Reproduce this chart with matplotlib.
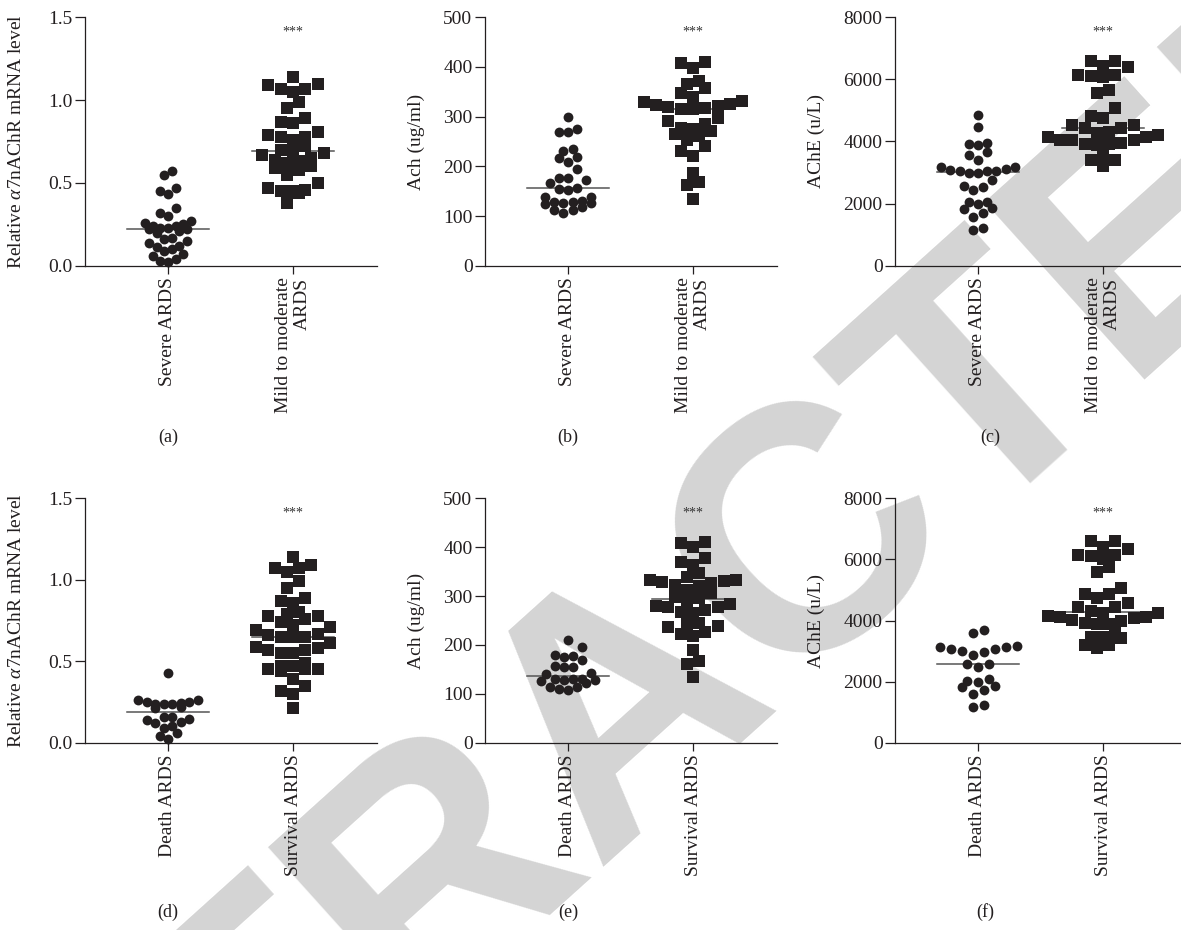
import numpy as np
import matplotlib
matplotlib.use("Agg")
import matplotlib.pyplot as plt

plt.rcParams['font.family'] = ['Liberation Serif', 'DejaVu Serif']
plt.rcParams['mathtext.fontset'] = 'custom'
plt.rcParams['mathtext.rm'] = 'Liberation Serif'
plt.rcParams['mathtext.it'] = 'Liberation Serif:italic'

# ---------------- data ----------------
cats_top = ["Severe ARDS", "Mild to moderate\nARDS"]
cats_bot = ["Death ARDS", "Survival ARDS"]

sev_a = [0.57, 0.55, 0.47, 0.45, 0.43, 0.35, 0.32, 0.30, 0.27, 0.26, 0.25, 0.24, 0.24, 0.23,
         0.23, 0.22, 0.22, 0.21, 0.20, 0.17, 0.16, 0.15, 0.14, 0.12, 0.11, 0.10, 0.09, 0.07,
         0.06, 0.04, 0.03, 0.02]
mild_a = [1.14, 1.10, 1.09, 1.07, 1.07, 1.05, 0.99, 0.95, 0.89, 0.87, 0.86, 0.81, 0.79, 0.78,
          0.78, 0.76, 0.72, 0.70, 0.69, 0.68, 0.67, 0.65, 0.64, 0.63, 0.62, 0.60, 0.59, 0.58,
          0.55, 0.50, 0.47, 0.46, 0.45, 0.45, 0.44, 0.38]

sev_b = [299, 276, 269, 269, 235, 231, 218, 217, 208, 194, 177, 176, 172, 167, 156, 154, 152,
         139, 139, 130, 129, 128, 127, 126, 125, 118, 112, 112, 106]
mild_b = [410, 408, 398, 372, 366, 358, 348, 340, 332, 330, 326, 323, 322, 320, 318, 316, 315,
          297, 292, 286, 278, 276, 272, 266, 262, 253, 240, 230, 221, 186, 168, 162, 134]

sev_c = [4850, 4480, 3960, 3920, 3900, 3670, 3560, 3420, 3190, 3180, 3110, 3080, 3050, 3050,
         3040, 2990, 2970, 2760, 2560, 2540, 2440, 2060, 2040, 1990, 1850, 1840, 1700, 1560,
         1220, 1150]
mild_c = [6600, 6590, 6420, 6400, 6150, 6140, 6100, 6080, 5660, 5550, 5070, 4820, 4750, 4540,
          4520, 4440, 4420, 4300, 4270, 4210, 4160, 4150, 4060, 4050, 4040, 3950, 3930, 3920,
          3900, 3560, 3420, 3390, 3220]

death_d = [0.43, 0.26, 0.26, 0.25, 0.25, 0.245, 0.24, 0.24, 0.235, 0.22, 0.215, 0.16, 0.16,
           0.145, 0.14, 0.13, 0.12, 0.10, 0.09, 0.06, 0.04, 0.025]
surv_d = [1.14, 1.09, 1.07, 1.07, 1.05, 0.99, 0.95, 0.89, 0.87, 0.86, 0.80, 0.79, 0.78, 0.78,
          0.76, 0.74, 0.72, 0.71, 0.69, 0.67, 0.66, 0.65, 0.65, 0.65, 0.61, 0.59, 0.58, 0.57,
          0.57, 0.55, 0.55, 0.49, 0.47, 0.47, 0.45, 0.45, 0.45, 0.44, 0.39, 0.35, 0.32, 0.30,
          0.21]

death_e = [210, 196, 179, 178, 176, 169, 157, 155, 154, 142, 141, 131, 130, 130, 129, 128, 127,
           122, 114, 113, 109, 108]
surv_e = [410, 408, 400, 377, 370, 364, 347, 340, 333, 333, 330, 328, 327, 323, 320, 312, 306,
          298, 296, 290, 283, 280, 278, 277, 272, 268, 265, 244, 242, 238, 236, 226, 222, 218,
          190, 168, 162, 135]

death_f = [3690, 3580, 3175, 3140, 3140, 3070, 3070, 3000, 2980, 2870, 2580, 2580, 2490, 2080,
           2030, 1980, 1860, 1830, 1730, 1590, 1230, 1160]
surv_f = [6610, 6600, 6420, 6330, 6150, 6140, 6100, 6000, 5760, 5600, 5060, 4870, 4860, 4730,
          4560, 4450, 4450, 4300, 4250, 4240, 4150, 4130, 4120, 4080, 4020, 4000, 3910, 3900,
          3900, 3580, 3470, 3460, 3420, 3200, 3190, 3090]

ylabels = [r'Relative $\alpha$7nAChR mRNA level', 'Ach (ug/ml)', 'AChE (u/L)']
yticks_list = [[0.0, 0.5, 1.0, 1.5], [0, 100, 200, 300, 400, 500],
               [0, 2000, 4000, 6000, 8000]]
yticklabels_list = [["0.0", "0.5", "1.0", "1.5"], ["0", "100", "200", "300", "400", "500"],
                    ["0", "2000", "4000", "6000", "8000"]]
panel_letters = ["(a)", "(b)", "(c)", "(d)", "(e)", "(f)"]
sig_text = "***"
watermark = "RETRACTED"

# ---------------- layout ----------------
W, H = 1181, 930
fig = plt.figure(figsize=(W / 100, H / 100), dpi=100)
INK = '#231f20'


def swarm(vals, ppu_y, row_px, col_px, ppu_x):
    v = np.asarray(vals, float)
    order = np.argsort(v)
    off = np.zeros(len(v))
    rows, cur, start = [], [order[0]], v[order[0]]
    for i in order[1:]:
        if (v[i] - start) * ppu_y < row_px:
            cur.append(i)
        else:
            rows.append(cur)
            cur, start = [i], v[i]
    rows.append(cur)
    for r in rows:
        n = len(r)
        pos = np.arange(n) - (n - 1) / 2.0
        seq = sorted(pos, key=lambda p: (abs(p), p))
        for k, idx in enumerate(r):
            off[idx] = seq[k] * col_px / ppu_x
    return off


lefts = [85, 485, 895]
ax_w = 292
tops = [17.3, 498.3]
bottoms = [265.7, 742.7]
xl = (1 - 83 / 125.0, 2 + 84 / 125.0)
ppu_x = 125.0

groups = [(sev_a, mild_a), (sev_b, mild_b), (sev_c, mild_c),
          (death_d, surv_d), (death_e, surv_e), (death_f, surv_f)]
circle_spacing = [7.6, 9.2, 9.2, 8.5, 9.0, 11.0]
label_xpos = [-0.205, -0.205, -0.24]
letter_pos = [(168, 437), (568, 437), (990, 437), (168, 912), (568, 912), (985, 912)]

for k in range(6):
    r, c = divmod(k, 3)
    left, top, bottom = lefts[c], tops[r], bottoms[r]
    ax = fig.add_axes([left / W, 1 - bottom / H, ax_w / W, (bottom - top) / H])
    ax.patch.set_alpha(0)
    ymax = yticks_list[c][-1]
    ppu_y = (bottom - top) / ymax
    g1, g2 = groups[k]
    o1 = swarm(g1, ppu_y, 10.0, circle_spacing[k], ppu_x)
    o2 = swarm(g2, ppu_y, 10.5, 12.3, ppu_x)
    ax.scatter(1 + o1, g1, s=50, marker='o', color=INK, linewidths=0, zorder=3, clip_on=False)
    ax.scatter(2 + o2, g2, s=72, marker='s', color=INK, linewidths=0, zorder=3, clip_on=False)
    for xc, g in ((1, g1), (2, g2)):
        m = np.median(g)
        ax.plot([xc - 0.325, xc + 0.325], [m, m], color='#555555', lw=1.1, zorder=2)
    ax.set_xlim(*xl)
    ax.set_ylim(0, ymax)
    ax.set_yticks(yticks_list[c])
    ax.set_yticklabels(yticklabels_list[c])
    ax.set_xticks([1, 2])
    ax.set_xticklabels(cats_top if r == 0 else cats_bot, rotation=90,
                       multialignment='right', va='top', ha='center')
    for s in ('top', 'right'):
        ax.spines[s].set_visible(False)
    for s in ('left', 'bottom'):
        ax.spines[s].set_linewidth(0.9)
        ax.spines[s].set_color(INK)
    ax.tick_params(axis='y', length=7, width=0.9, colors=INK, labelsize=14, pad=2)
    ax.tick_params(axis='x', length=5.5, width=0.9, colors=INK, labelsize=14, pad=3)
    ax.set_ylabel(ylabels[c], fontsize=14, color=INK)
    ax.yaxis.set_label_coords(label_xpos[c], 0.5)
    ax.text(2, 0.94, sig_text, transform=ax.get_xaxis_transform(), ha='center',
            va='center', fontsize=10, color='#333333')
    lx, ly = letter_pos[k]
    fig.text(lx / W, 1 - ly / H, panel_letters[k], ha='center', va='center',
             fontsize=13, color=INK)

fig.text(625 / W, 1 - 705 / H, watermark, rotation=42, fontsize=250, color='#d4d4d4',
         fontweight='bold', family='Liberation Sans', ha='center', va='center',
         rotation_mode='anchor', zorder=-5)

fig.savefig("out.png", dpi=100)
